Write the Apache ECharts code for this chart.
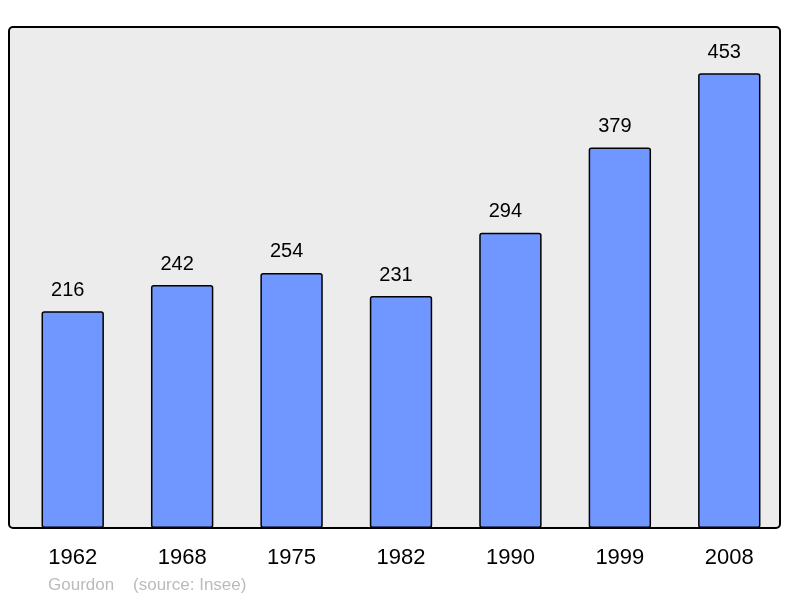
<!DOCTYPE html>
<html><head><meta charset="utf-8">
<script src="https://cdn.jsdelivr.net/npm/echarts@6/dist/echarts.min.js"></script>
<style>html,body{margin:0;padding:0;background:#fff}#c{width:800px;height:598px}</style>
</head><body><div id="c"></div>
<script>
const categories = ['1962','1968','1975','1982','1990','1999','2008'];
const population = [216, 242, 254, 231, 294, 379, 453];
const footer = 'Gourdon    (source: Insee)';

const chart = echarts.init(document.getElementById('c'), null, {renderer:'canvas'});
chart.setOption({
  animation:false,
  backgroundColor:'#ffffff',
  graphic:[
    {type:'rect', z:-10, shape:{x:9, y:27, width:771, height:501, r:4},
     style:{fill:'#ececec', stroke:'#000', lineWidth:2}},
    {type:'text', left:48, top:577, style:{text:footer, fill:'#bbbbbb', font:'17px "Liberation Sans", Arial, sans-serif'}}
  ],
  grid:{left:18, top:26, width:766, height:502, containLabel:false},
  xAxis:{type:'category', data:categories,
    axisLine:{show:false}, axisTick:{show:false},
    axisLabel:{margin:19, fontSize:22, color:'#000', fontFamily:'Liberation Sans'}},
  yAxis:{type:'value', min:0, max:500, show:false, splitLine:{show:false}},
  series:[{type:'bar', data:population, barWidth:'57%',
    itemStyle:{color:'#7097ff', borderColor:'#000', borderWidth:1.5, borderRadius:2},
    label:{show:true, position:'top', distance:11, offset:[-5,0], fontSize:20, color:'#000', fontFamily:'Liberation Sans'}}]
});
</script></body></html>
